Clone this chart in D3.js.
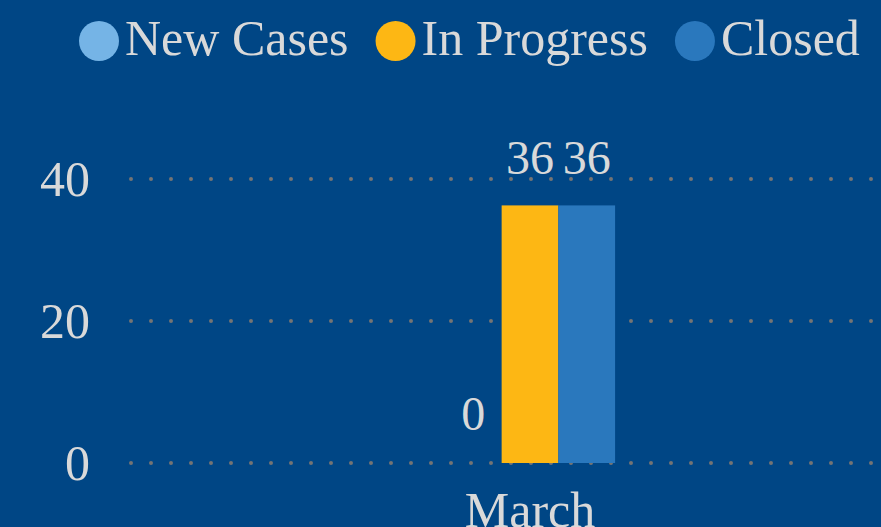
<!DOCTYPE html>
<html>
<head>
<meta charset="UTF-8">
<title>Cases by month</title>
<script src="https://d3js.org/d3.v7.min.js"></script>
<style>
  html, body { margin: 0; padding: 0; background: #004685; overflow: hidden; }
  svg text { font-family: "Liberation Serif", "DejaVu Serif", serif; fill: #d9d9d9; font-variant-numeric: oldstyle-nums; }
</style>
</head>
<body>
<div id="chart"></div>
<script>
// data
var months = ["March"];
var series = ["New Cases", "In Progress", "Closed"];
var newCasesValues = [0];
var inProgressValues = [36];
var closedValues = [36];
var yTicks = [0, 20, 40];
var colors = ["#75b4e6", "#fdb714", "#2a78bd"];

var width = 881, height = 527;
var values = [newCasesValues, inProgressValues, closedValues];

var svg = d3.select("#chart").append("svg")
    .attr("width", width)
    .attr("height", height);

svg.append("rect").attr("width", width).attr("height", height).attr("fill", "#004685");

// scales
var x0 = d3.scaleBand()
    .domain(months)
    .range([131, 929])
    .paddingInner(0.1)
    .paddingOuter(1.66);

var x1 = d3.scaleBand()
    .domain(series)
    .range([0, x0.bandwidth()]);

var y = d3.scaleLinear()
    .domain([0, 40])
    .range([463, 179]);

var color = d3.scaleOrdinal().domain(series).range(colors);

// dotted grid
svg.append("g").selectAll("line")
    .data(yTicks)
    .enter()
    .append("line")
    .attr("x1", 131)
    .attr("x2", width)
    .attr("y1", function(d) { return y(d); })
    .attr("y2", function(d) { return y(d); })
    .attr("stroke", "#747474")
    .attr("stroke-width", 4)
    .attr("stroke-linecap", "round")
    .attr("stroke-dasharray", "0 20");

// y axis labels
var yAxis = d3.axisLeft(y).tickValues(yTicks).tickSize(0).tickPadding(0);
var gy = svg.append("g").attr("transform", "translate(90,0)").call(yAxis);
gy.select(".domain").remove();
gy.selectAll("text")
    .attr("font-size", 50)
    .attr("dy", "0.32em")
    .attr("fill", "#d9d9d9")
    .style("font-family", "Liberation Serif, serif");

// bars
var groups = svg.append("g").selectAll("g")
    .data(months)
    .enter()
    .append("g")
    .attr("transform", function(d) { return "translate(" + x0(d) + ",0)"; });

var cells = groups.selectAll("g")
    .data(function(d, i) {
        return series.map(function(s, j) { return { key: s, value: values[j][i] }; });
    })
    .enter()
    .append("g");

cells.append("rect")
    .attr("x", function(d) { return x1(d.key); })
    .attr("width", x1.bandwidth())
    .attr("y", function(d) { return y(d.value) - 2; })
    .attr("height", function(d) { return d.value ? y(0) - y(d.value) + 2 : 0; })
    .attr("fill", function(d) { return color(d.key); });

cells.append("text")
    .attr("x", function(d) { return x1(d.key) + x1.bandwidth() / 2; })
    .attr("y", function(d) { return y(d.value) - 33; })
    .attr("text-anchor", "middle")
    .attr("font-size", 48)
    .text(function(d) { return d.value; });

// x axis label
var xAxis = d3.axisBottom(x0).tickSize(0).tickPadding(0);
var gx = svg.append("g").attr("transform", "translate(0,463)").call(xAxis);
gx.select(".domain").remove();
gx.selectAll("text")
    .attr("font-size", 50)
    .attr("dy", "0")
    .attr("y", 64)
    .attr("fill", "#d9d9d9")
    .style("font-family", "Liberation Serif, serif");

// legend
var legend = svg.append("g");
var cursor = 79;
series.forEach(function(s) {
    legend.append("circle")
        .attr("cx", cursor + 20)
        .attr("cy", 41)
        .attr("r", 20)
        .attr("fill", color(s));
    var t = legend.append("text")
        .attr("x", cursor + 46)
        .attr("y", 55)
        .attr("font-size", 50)
        .text(s);
    cursor = cursor + 46 + t.node().getComputedTextLength() + 27;
});
</script>
</body>
</html>
